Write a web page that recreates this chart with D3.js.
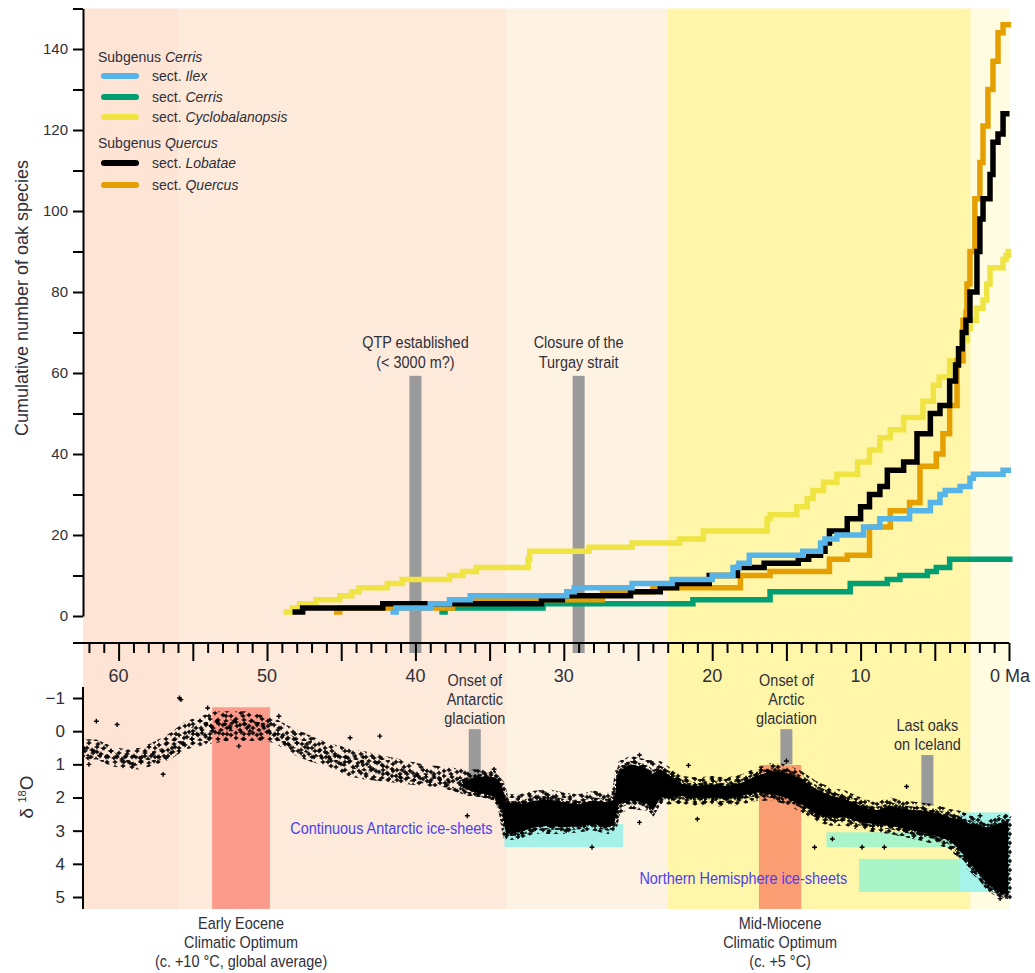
<!DOCTYPE html>
<html><head><meta charset="utf-8">
<script src="https://cdn.jsdelivr.net/npm/d3@7"></script>
<style>
body{margin:0;background:#fff;}
svg{display:block;}
</style></head><body>
<svg id="c" width="1035" height="973"></svg>
<script>
// ---------------- DATA ----------------
// Geological time bands (Ma)
const epochFrom = [62.4, 56.0, 33.9, 23.03, 2.58];
const epochTo   = [56.0, 33.9, 23.03, 2.58, -0.07];
const epochColor = ["#fde4d4", "#fdeadb", "#fef2e3", "#fff6a9", "#fffce2"];

// Cumulative number of oak species: [age Ma, count]
const ilex = [[41.5,1],[41.3,2],[39.0,3],[37.7,4],[36.3,5],[29.8,6],[29.3,7],[25.4,8],[22.7,9],[20.0,10],[18.6,12],[18.2,13],[17.5,15],[13.9,16],[12.7,18],[12.4,19],[11.6,20],[9.8,22],[8.7,24],[6.7,26],[5.3,28],[4.65,30],[4.3,31],[3.3,32],[2.63,34],[2.4,35],[0.4,36],[0.05,36]];
const cerris = [[38.2,1],[38.0,2],[31.4,3],[21.3,4],[16.1,6],[10.7,8],[8.2,9],[7.35,10],[5.5,11],[4.9,12],[4.0,14],[-0.05,14]];
const cyclobalanopsis = [[48.7,1],[48.3,2],[47.8,3],[46.7,4],[45.1,5],[44.3,6],[43.8,7],[41.9,8],[40.9,9],[37.7,10],[36.8,11],[35.9,12],[32.4,14],[32.3,16],[28.3,17],[25.4,18],[22.2,19],[20.6,21],[16.3,24],[16.1,25],[14.3,27],[13.6,29],[13.2,31],[12.5,33],[11.6,35],[10.2,38],[9.4,41],[8.7,44],[8.0,46],[7.1,49],[5.8,53],[5.1,57],[4.7,59],[4.0,63],[3.1,68],[2.8,71],[2.6,73],[2.2,76],[1.75,78],[1.5,82],[1.28,86],[0.4,88],[0.2,89],[0.05,90]];
const lobatae = [[48.1,1],[47.6,2],[42.2,3],[31.5,4],[30.1,5],[25.5,6],[23.5,7],[22.4,8],[20.2,10],[18.3,12],[16.5,13],[14.2,14],[13.5,15],[12.7,16],[12.4,18],[12.1,21],[10.9,24],[10.0,27],[9.4,30],[8.7,32],[8.2,36],[7.1,38],[6.2,45],[5.3,50],[4.65,52],[4.0,58],[3.6,62],[3.4,66],[3.15,70],[2.9,73],[2.63,80],[2.16,90],[1.96,98],[1.75,103],[1.28,109],[1.08,117],[0.74,119],[0.40,124],[0.15,124]];
const quercus = [[45.3,1],[45.1,2],[37.5,3],[36.3,4],[27.4,6],[24.0,7],[18.1,10],[16.1,11],[12.1,14],[10.9,15],[9.4,22],[8.0,26],[6.7,28],[6.0,37],[4.9,40],[4.45,45],[4.0,52],[3.5,63],[3.1,73],[2.9,75],[2.83,82],[2.63,90],[2.3,103],[1.96,112],[1.75,121],[1.42,130],[1.08,137],[0.74,144],[0.40,146],[0.05,146]];

const seriesNames = ["Ilex","Cerris","Cyclobalanopsis","Lobatae","Quercus"];
const seriesColor = ["#56b4e9","#009e73","#f0e442","#000000","#e69f00"];

// delta 18O: outer envelope of scattered values (age, min, max)
const d18Age = [62.4,61.5,60.5,59.5,58.5,57.5,56.5,55.5,54.5,53.5,52.5,51.5,50.5,49.5,48.5,47.5,46.5,45.5,44.5,43.5,42.5,41.5,40.5,39.5,38.5,37.5,36.5,35.5,34.6,34.2,33.9,33.0,32.0,31.0,30.0,29.0,28.0,27.0,26.6,26.3,25.5,24.5,23.5,22.8,22.0,21.0,20.0,19.0,18.0,17.0,16.0,15.0,14.0,13.0,12.0,11.0,10.0,9.0,8.0,7.0,6.0,5.0,4.0,3.3,2.6,2.0,1.5,1.0,0.5,0.05];
const d18Min = [0.25,0.25,0.45,0.55,0.5,0.3,0.05,-0.3,-0.45,-0.6,-0.6,-0.6,-0.5,-0.4,-0.15,0.05,0.25,0.4,0.5,0.6,0.7,0.8,0.9,1.0,1.05,1.1,1.15,1.15,1.2,1.4,1.9,1.9,1.8,1.75,1.85,1.9,1.8,1.85,1.8,0.9,0.75,0.85,0.9,1.1,1.35,1.4,1.35,1.4,1.3,1.1,0.95,1.0,1.2,1.5,1.7,1.8,2.0,2.15,2.0,2.1,2.15,2.2,2.35,2.4,2.55,2.6,2.7,2.6,2.5,2.5];
const d18Max = [0.9,0.85,1.05,1.15,1.15,1.0,0.85,0.55,0.45,0.35,0.3,0.3,0.3,0.35,0.65,0.85,1.0,1.15,1.35,1.45,1.5,1.55,1.6,1.65,1.7,1.8,1.95,2.0,2.1,2.5,3.3,3.25,3.1,3.1,3.1,3.05,3.0,3.1,3.0,2.5,2.35,2.4,2.2,2.2,2.2,2.25,2.25,2.3,2.2,2.1,2.1,2.2,2.45,2.75,2.85,2.85,3.0,3.05,3.1,3.2,3.3,3.4,3.55,3.9,4.25,4.5,4.8,4.95,5.05,5.05];
// delta 18O: moderately dense centre of the older record
const midAge = [62.4,61.0,60.0,59.0,58.0,57.0,56.0,55.0,54.0,53.0,52.0,51.0,50.0,49.0,48.0,47.0,46.0,45.0,44.0,43.0,42.0,41.0,40.0,39.0,38.0,37.0,36.8];
const midMin = [0.45,0.5,0.7,0.75,0.65,0.5,0.2,-0.15,-0.3,-0.35,-0.35,-0.3,-0.25,0.0,0.2,0.35,0.55,0.7,0.8,0.85,0.95,1.1,1.2,1.3,1.4,1.45,1.5];
const midMax = [0.75,0.75,1.0,1.05,1.0,0.85,0.6,0.4,0.2,0.0,0.0,0.05,0.1,0.35,0.55,0.7,0.9,1.05,1.15,1.25,1.35,1.45,1.55,1.6,1.7,1.75,1.75];
// delta 18O: densely sampled core
const coreAge = [36.8,36.0,35.2,34.6,34.2,33.9,33.0,32.0,31.0,30.0,29.0,28.0,27.0,26.6,26.3,25.5,24.5,24.0,23.5,22.8,22.0,21.0,20.0,19.0,18.0,17.0,16.0,15.0,14.0,13.0,12.0,11.0,10.0,9.0,8.0,7.0,6.0,5.0,4.0,3.3,2.6,2.0,1.5,1.0,0.5,0.05];
const coreMin = [1.55,1.4,1.35,1.4,1.6,2.15,2.2,2.1,2.05,2.15,2.2,2.1,2.15,2.05,1.2,1.0,1.1,1.3,1.15,1.35,1.6,1.65,1.6,1.65,1.55,1.35,1.2,1.25,1.45,1.75,1.95,2.05,2.25,2.4,2.25,2.35,2.4,2.45,2.6,2.65,2.8,2.85,2.9,2.85,2.75,2.7];
const coreMax = [1.7,1.85,1.9,2.0,2.3,3.1,3.05,2.9,2.85,2.9,2.85,2.8,2.9,2.8,2.2,2.1,2.15,2.4,2.0,2.0,1.95,2.0,2.0,2.05,1.95,1.85,1.9,2.0,2.2,2.5,2.6,2.6,2.75,2.8,2.85,2.95,3.05,3.15,3.3,3.6,4.0,4.3,4.6,4.75,4.9,4.95];
// isolated delta 18O values [age, value]
const d18Outliers = [[55.9,-1.0],[55.8,-0.95],[61.5,-0.3],[60.1,-0.2],[54.0,-0.7],[51.9,0.45],[42.4,0.15],[44.4,0.2],[36.5,2.55],[34.7,1.15],[24.9,0.72],[21.6,1.03],[28.1,3.5],[21.0,2.65],[24.9,2.75],[6.9,1.67],[13.1,3.5],[9.9,3.5],[8.4,3.5],[11.9,3.25],[15.0,0.9],[1.95,2.55],[0.6,5.05],[49.2,-0.45],[57.0,1.3],[62.0,1.0]];

// Climatic optima (Ma, delta top)
const optimaFrom = [53.7, 16.85];
const optimaTo   = [49.8, 14.0];
const optimaTop  = [-0.72, 1.02];
const optimaColor = ["#fc9b8c", "#fb9d72"];
const optimaLabels = [["Early Eocene","Climatic Optimum","(c. +10 °C, global average)"],["Mid-Miocene","Climatic Optimum","(c. +5 °C)"]];

// Ice-sheet ranges
const iceFrom = [34.0, 12.3, 10.1, 3.3];
const iceTo   = [26.0, 3.3, 2.58, 0.0];
const iceTop  = [2.8, 3.05, 3.85, 2.45];
const iceBot  = [3.5, 3.5, 4.85, 4.85];
const iceColor = ["#a6f1e7", "#a9f4c8", "#a9f4c8", "#a6f3e9"];

// Events
const topEventAge = [40, 29];
const topEventTop = 59.3;
const topEventLabels = [["QTP established","(< 3000 m?)"],["Closure of the","Turgay strait"]];
const botEventAge = [36, 15, 5.5];
const botEventTop = [-0.06, -0.06, 0.72];
const botEventBot = [1.45, 1.0, 2.25];
const botEventLabels = [["Onset of","Antarctic","glaciation"],["Onset of","Arctic","glaciation"],["Last oaks","on Iceland"]];

const xTickLabels = [60,50,40,30,20,10,0];

// ---------------- DRAW ----------------
const SANS = '"Liberation Sans",Arial,sans-serif';
const TXT = "#2f2f3a";

const svg = d3.select("#c");
const x  = d3.scaleLinear().domain([62.4, 0]).range([83, 1009]);
const yT = d3.scaleLinear().domain([0, 150]).range([616, 8.5]);
const yB = d3.scaleLinear().domain([-1, 5]).range([698, 897]);
const bgTop = yT(150), bgBot = yB(5.36);

// patterns of crosses for scattered points
const defs = svg.append("defs");
function crossPattern(id, w, h, pos, arm, sw){
  const p = defs.append("pattern").attr("id",id).attr("patternUnits","userSpaceOnUse").attr("width",w).attr("height",h);
  p.selectAll("path").data(pos).join("path")
    .attr("d", d => `M${d[0]-arm},${d[1]}h${2*arm}M${d[0]},${d[1]-arm}v${2*arm}`)
    .attr("stroke","#000").attr("stroke-width",sw);
}
crossPattern("crA", 26, 19, [[3,4],[11,2],[19,6],[24,1],[7,10],[15,12],[23,13],[2,16],[10,17],[18,18]], 2.3, 1.4);
crossPattern("crB", 17, 23, [[5,3],[13,8],[2,12],[9,15],[15,20],[6,21]], 2.3, 1.4);
crossPattern("crC", 11, 9, [[2,2],[7,1],[5,5],[9,6],[1,7]], 2.3, 1.4);
crossPattern("crD", 19, 13, [[3,3],[12,2],[8,7],[16,9],[2,11]], 2.3, 1.4);

// backgrounds
svg.append("g").selectAll("rect").data(epochFrom).join("rect")
  .attr("x", (d,i) => x(d)).attr("width", (d,i) => x(epochTo[i]) - x(d))
  .attr("y", bgTop).attr("height", bgBot - bgTop)
  .attr("fill", (d,i) => epochColor[i]);

// climatic optima boxes
svg.append("g").selectAll("rect").data(optimaFrom).join("rect")
  .attr("x", d => x(d)).attr("width", (d,i) => x(optimaTo[i]) - x(d))
  .attr("y", (d,i) => yB(optimaTop[i])).attr("height", (d,i) => bgBot - yB(optimaTop[i]))
  .attr("fill", (d,i) => optimaColor[i]);

// ice sheet boxes
svg.append("g").selectAll("rect").data(iceFrom).join("rect")
  .attr("x", d => x(d)).attr("width", (d,i) => x(iceTo[i]) - x(d))
  .attr("y", (d,i) => yB(iceTop[i])).attr("height", (d,i) => yB(iceBot[i]) - yB(iceTop[i]))
  .attr("fill", (d,i) => iceColor[i]);

// grey event bars
svg.append("g").selectAll("rect").data(topEventAge).join("rect")
  .attr("x", d => x(d) - 6).attr("width", 12)
  .attr("y", yT(topEventTop)).attr("height", 653 - yT(topEventTop))
  .attr("fill", "#9a9a9a");
svg.append("g").selectAll("rect").data(botEventAge).join("rect")
  .attr("x", d => x(d) - 6).attr("width", 12)
  .attr("y", (d,i) => yB(botEventTop[i])).attr("height", (d,i) => yB(botEventBot[i]) - yB(botEventTop[i]))
  .attr("fill", "#9a9a9a");

// delta 18O scatter
const band = d3.area().x(d => x(d[0])).y0(d => yB(d[1])).y1(d => yB(d[2]));
const haloData = d18Age.map((a,i) => [a, d18Min[i], d18Max[i]]);
svg.append("path").datum(haloData).attr("d", band).attr("fill", "url(#crA)");
svg.append("path").datum(haloData).attr("d", band).attr("fill", "url(#crB)");
svg.append("path").datum(midAge.map((a,i) => [a, midMin[i], midMax[i]]))
  .attr("d", band).attr("fill", "url(#crD)");
svg.append("path").datum(coreAge.map((a,i) => [a, coreMin[i], coreMax[i]]))
  .attr("d", band).attr("fill", "#000")
  .attr("stroke","url(#crC)").attr("stroke-width",7);
svg.append("g").selectAll("path").data(d18Outliers).join("path")
  .attr("d", d => `M${x(d[0])-2.4},${yB(d[1])}h4.8M${x(d[0])},${yB(d[1])-2.4}v4.8`)
  .attr("stroke","#000").attr("stroke-width",1.4);

// step lines
const line = d3.line().x(d => x(d[0])).y(d => yT(d[1])).curve(d3.curveStepAfter);
const allSeries = [ilex, cerris, cyclobalanopsis, lobatae, quercus];
const drawOrder = [2, 1, 4, 3, 0];
drawOrder.forEach(i => {
  svg.append("path").datum(allSeries[i]).attr("d", line)
    .attr("fill","none").attr("stroke", seriesColor[i]).attr("stroke-width", 5.5)
    .attr("stroke-linejoin","miter").attr("stroke-linecap","square");
});

// axes
function styleAxis(g){
  g.selectAll("line").attr("stroke","#000").attr("stroke-width",2);
  g.selectAll("path.domain").attr("stroke","#000").attr("stroke-width",2);
  g.selectAll("text").attr("fill",TXT).attr("font-family",SANS);
}
const gyT = svg.append("g").attr("transform","translate(83,0)")
  .call(d3.axisLeft(yT).tickValues(d3.range(0,151,10)).tickSize(10).tickSizeOuter(0).tickPadding(5)
    .tickFormat(d => (d % 20 === 0 && d < 150) ? d : ""));
styleAxis(gyT);
gyT.selectAll("text").attr("font-size",15);

const gx = svg.append("g").attr("transform","translate(0,643)")
  .call(d3.axisBottom(x).tickValues(d3.range(0,63)).tickSize(10).tickSizeOuter(0).tickFormat(""));
gx.select(".domain").remove();
styleAxis(gx);
gx.selectAll(".tick line").attr("y2", d => d % 5 === 0 ? 18 : 10);
gx.append("line").attr("x1", x(62.4) - 10).attr("x2", x(0)).attr("y1",0).attr("y2",0)
  .attr("stroke","#000").attr("stroke-width",2);
svg.append("g").selectAll("text").data(xTickLabels).join("text")
  .attr("x", d => x(d) + (d === 0 ? 1 : 0)).attr("y", 682).attr("text-anchor","middle")
  .attr("font-family",SANS).attr("font-size",18).attr("fill",TXT)
  .text(d => d === 0 ? "0 Ma" : d);

const gyB = svg.append("g").attr("transform","translate(83,0)")
  .call(d3.axisLeft(yB).tickValues([-1,0,1,2,3,4,5]).tickSize(10).tickSizeOuter(0).tickPadding(8)
    .tickFormat(d => d < 0 ? "\u2212" + (-d) : String(d)));
gyB.select(".domain").remove();
styleAxis(gyB);
gyB.selectAll("text").attr("font-size",17);
gyB.append("line").attr("x1",0).attr("x2",0).attr("y1",yB(-1.33)).attr("y2",bgBot)
  .attr("stroke","#000").attr("stroke-width",2);

// axis titles
svg.append("text").attr("transform","translate(28,298) rotate(-90)")
  .attr("text-anchor","middle").attr("font-family",SANS).attr("font-size",18).attr("fill",TXT)
  .text("Cumulative number of oak species");
const dl = svg.append("text").attr("transform","translate(33,797) rotate(-90)")
  .attr("text-anchor","middle").attr("font-family",SANS).attr("font-size",19).attr("fill",TXT);
dl.append("tspan").text("δ ");
dl.append("tspan").attr("font-size",11).attr("dy",-7).text("18");
dl.append("tspan").attr("dy",7).text("O");

// legend
const leg = svg.append("g").attr("font-family",SANS).attr("font-size",14).attr("fill",TXT);
function legHead(y, a, b){
  const t = leg.append("text").attr("x",98).attr("y",y);
  t.append("tspan").text(a);
  t.append("tspan").attr("font-style","italic").text(b);
}
legHead(62, "Subgenus ", "Cerris");
legHead(148, "Subgenus ", "Quercus");
const legY = [76, 97, 117, 163, 185];
seriesNames.forEach((n,i) => {
  leg.append("line").attr("x1",104).attr("x2",136).attr("y1",legY[i]).attr("y2",legY[i])
    .attr("stroke",seriesColor[i]).attr("stroke-width",6).attr("stroke-linecap","round");
  const t = leg.append("text").attr("x",152).attr("y",legY[i]+5);
  t.append("tspan").text("sect. ");
  t.append("tspan").attr("font-style","italic").text(n);
});

// annotations (condensed lettering)
const ann = svg.append("g").attr("font-family",SANS).attr("font-size",17).attr("fill",TXT);
function label(px, py, s, anchor, color){
  ann.append("text").attr("transform",`translate(${px},${py}) scale(0.85,1)`)
    .attr("text-anchor", anchor || "middle").attr("fill", color || TXT).text(s);
}
topEventAge.forEach((a,i) => {
  topEventLabels[i].forEach((s,j) => label(x(a), 348 + j*20, s));
});
botEventAge.forEach((a,i) => {
  const base = botEventLabels[i].length === 3 ? 686 : 731;
  botEventLabels[i].forEach((s,j) => label(x(a), base + j*19, s));
});
optimaFrom.forEach((a,i) => {
  const cx = (x(a) + x(optimaTo[i])) / 2;
  optimaLabels[i].forEach((s,j) => label(cx, 929 + j*19, s));
});
label(x(34.8), 834, "Continuous Antarctic ice-sheets", "end", "#4b3ef2");
label(x(10.9), 884, "Northern Hemisphere ice-sheets", "end", "#4b3ef2");
</script></body></html>
